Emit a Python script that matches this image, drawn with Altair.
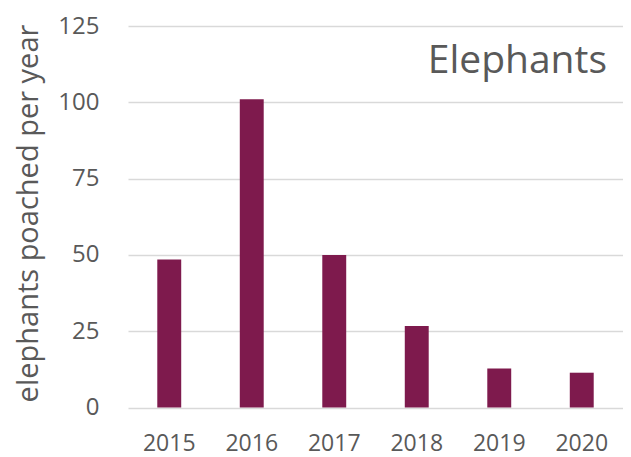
import altair as alt
import pandas as pd

years = ["2015", "2016", "2017", "2018", "2019", "2020"]
poached = [48.5, 101, 50, 26.7, 12.8, 11.4]
panel_title = ["Elephants"]

df = pd.DataFrame({"year": years, "poached": poached})
tdf = pd.DataFrame({"label": panel_title})

FONT = "Open Sans"
GRAY = "#595959"

bars = (
    alt.Chart(df)
    .mark_bar(color="#7E1A4D")
    .encode(
        x=alt.X(
            "year:N",
            sort=years,
            title=None,
            scale=alt.Scale(paddingInner=0.71, paddingOuter=0.355),
            axis=alt.Axis(
                labelAngle=0,
                labelFont=FONT,
                labelFontSize=23,
                labelColor=GRAY,
                labelPadding=25,
                ticks=False,
                tickSize=0,
                domain=False,
                grid=False,
            ),
        ),
        y=alt.Y(
            "poached:Q",
            scale=alt.Scale(domain=[0, 125], nice=False),
            title="elephants poached per year",
            axis=alt.Axis(
                values=[0, 25, 50, 75, 100, 125],
                labelFont=FONT,
                labelFontSize=24,
                labelColor=GRAY,
                labelPadding=29,
                ticks=False,
                tickSize=0,
                domain=False,
                grid=True,
                gridColor="#d9d9d9",
                gridWidth=1.5,
                titleFont=FONT,
                titleFontSize=29,
                titleFontWeight="normal",
                titleColor=GRAY,
                titleAngle=-90,
                titleX=-100,
                titleY=187,
                titleAlign="center",
                titleBaseline="middle",
            ),
        ),
    )
)

title_text = (
    alt.Chart(tdf)
    .mark_text(
        font=FONT,
        fontSize=39,
        color=GRAY,
        align="right",
        baseline="alphabetic",
    )
    .encode(text="label:N", x=alt.value(479), y=alt.value(47))
)

chart = (
    alt.layer(bars, title_text)
    .properties(
        width=495,
        height=381.5,
        padding={"left": 120, "top": 18, "right": 0, "bottom": 49},
        autosize=alt.AutoSizeParams(type="none"),
    )
    .configure_view(stroke=None)
)

chart.save("out.html", embed_options={"renderer": "svg", "actions": False})
